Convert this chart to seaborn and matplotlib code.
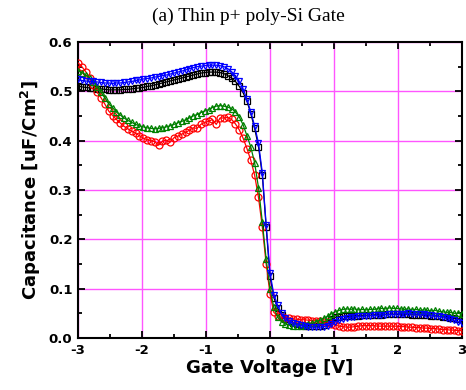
import numpy as np
import pandas as pd
import matplotlib
matplotlib.use("Agg")
import matplotlib.pyplot as plt
from matplotlib.ticker import MultipleLocator
import seaborn as sns

# Gate voltage sweep (V), 0.06 V step from -3 to 3
voltage = np.round(np.linspace(-3.0, 3.0, 101), 2)

cap_black = [
    0.511, 0.509, 0.508, 0.507, 0.506, 0.505, 0.505, 0.504, 0.503, 0.503,
    0.503, 0.503, 0.504, 0.504, 0.505, 0.506, 0.507, 0.508, 0.510, 0.511,
    0.513, 0.515, 0.517, 0.519, 0.521, 0.523, 0.525, 0.527, 0.529, 0.531,
    0.533, 0.535, 0.537, 0.538, 0.539, 0.539, 0.539, 0.538, 0.536, 0.532,
    0.527, 0.520, 0.510, 0.497, 0.480, 0.455, 0.425, 0.388, 0.330, 0.225,
    0.125, 0.082, 0.060, 0.047, 0.039, 0.034, 0.030, 0.028, 0.026, 0.025,
    0.024, 0.024, 0.024, 0.025, 0.027, 0.032, 0.038, 0.042, 0.043, 0.044,
    0.044, 0.045, 0.045, 0.045, 0.046, 0.046, 0.046, 0.047, 0.047, 0.047,
    0.048, 0.048, 0.048, 0.048, 0.048, 0.048, 0.048, 0.047, 0.047, 0.047,
    0.046, 0.046, 0.045, 0.045, 0.044, 0.043, 0.042, 0.041, 0.040, 0.039,
    0.038,
]

cap_red = [
    0.558, 0.550, 0.540, 0.527, 0.512, 0.498, 0.487, 0.474, 0.460, 0.451,
    0.443, 0.436, 0.429, 0.424, 0.419, 0.415, 0.410, 0.405, 0.402, 0.400,
    0.398, 0.391, 0.399, 0.401, 0.397, 0.406, 0.409, 0.413, 0.417, 0.421,
    0.426, 0.425, 0.433, 0.437, 0.439, 0.443, 0.433, 0.446, 0.446, 0.447,
    0.443, 0.434, 0.422, 0.405, 0.384, 0.360, 0.330, 0.285, 0.225, 0.150,
    0.090, 0.052, 0.045, 0.042, 0.040, 0.040, 0.039, 0.038, 0.037, 0.037,
    0.036, 0.035, 0.035, 0.034, 0.033, 0.032, 0.029, 0.026, 0.024, 0.023,
    0.022, 0.022, 0.023, 0.024, 0.025, 0.025, 0.025, 0.025, 0.024, 0.024,
    0.024, 0.024, 0.024, 0.024, 0.023, 0.023, 0.022, 0.022, 0.021, 0.021,
    0.020, 0.020, 0.019, 0.019, 0.018, 0.017, 0.017, 0.016, 0.016, 0.015,
    0.015,
]

cap_green = [
    0.542, 0.538, 0.533, 0.527, 0.519, 0.508, 0.498, 0.487, 0.475, 0.467,
    0.458, 0.452, 0.446, 0.441, 0.437, 0.433, 0.430, 0.428, 0.426, 0.425,
    0.424, 0.425, 0.426, 0.428, 0.430, 0.433, 0.436, 0.439, 0.442, 0.446,
    0.450, 0.453, 0.457, 0.460, 0.463, 0.467, 0.470, 0.471, 0.470, 0.468,
    0.465, 0.458, 0.448, 0.432, 0.410, 0.387, 0.355, 0.305, 0.235, 0.160,
    0.100, 0.062, 0.042, 0.033, 0.029, 0.026, 0.024, 0.024, 0.025, 0.026,
    0.028, 0.030, 0.033, 0.036, 0.040, 0.044, 0.049, 0.053, 0.056, 0.058,
    0.059, 0.058, 0.059, 0.057, 0.058, 0.057, 0.058, 0.058, 0.059, 0.060,
    0.059, 0.061, 0.060, 0.060, 0.059, 0.058, 0.059, 0.057, 0.058, 0.056,
    0.057, 0.056, 0.055, 0.056, 0.054, 0.053, 0.052, 0.052, 0.050, 0.050,
    0.049,
]

cap_blue = [
    0.524, 0.522, 0.521, 0.520, 0.520, 0.519, 0.518, 0.517, 0.517, 0.516,
    0.517, 0.517, 0.518, 0.519, 0.520, 0.522, 0.523, 0.525, 0.526, 0.527,
    0.529, 0.530, 0.532, 0.533, 0.535, 0.537, 0.539, 0.541, 0.543, 0.546,
    0.548, 0.550, 0.551, 0.552, 0.553, 0.553, 0.553, 0.552, 0.550, 0.546,
    0.540, 0.531, 0.520, 0.505, 0.484, 0.458, 0.430, 0.395, 0.335, 0.230,
    0.132, 0.088, 0.066, 0.050, 0.041, 0.035, 0.031, 0.028, 0.026, 0.024,
    0.023, 0.022, 0.022, 0.022, 0.023, 0.025, 0.029, 0.033, 0.036, 0.039,
    0.041, 0.042, 0.043, 0.044, 0.044, 0.045, 0.045, 0.046, 0.046, 0.047,
    0.047, 0.048, 0.048, 0.049, 0.049, 0.049, 0.050, 0.049, 0.049, 0.048,
    0.048, 0.047, 0.046, 0.045, 0.044, 0.043, 0.041, 0.039, 0.036, 0.033,
    0.030,
]

series_names = ["black", "red", "green", "blue"]
series_colors = {"black": "#000000", "red": "#ff0000", "green": "#008000", "blue": "#0000ff"}
series_markers = {"black": "s", "red": "o", "green": "^", "blue": "v"}
series_values = {"black": cap_black, "red": cap_red, "green": cap_green, "blue": cap_blue}

x_ticks = [-3, -2, -1, 0, 1, 2, 3]
y_ticks = [0.0, 0.1, 0.2, 0.3, 0.4, 0.5, 0.6]
x_tick_labels = ["-3", "-2", "-1", "0", "1", "2", "3"]
y_tick_labels = ["0.0", "0.1", "0.2", "0.3", "0.4", "0.5", "0.6"]

title = "(a) Thin p+ poly-Si Gate"
x_label = "Gate Voltage [V]"
y_label = r"Capacitance [uF/Cm$^\mathbf{2}$]"

sns.set_style("ticks")
plt.rcParams["font.family"] = ["DejaVu Sans"]
plt.rcParams["mathtext.fontset"] = "dejavusans"
plt.rcParams["text.color"] = "black"
plt.rcParams["axes.labelcolor"] = "black"
plt.rcParams["xtick.color"] = "black"
plt.rcParams["ytick.color"] = "black"
plt.rcParams["axes.edgecolor"] = "black"

fig = plt.figure(figsize=(4.66, 3.90), dpi=100)
ax = fig.add_axes([78 / 466, 1 - 338 / 390, (462 - 78) / 466, (338 - 42) / 390])

for name in series_names:
    df = pd.DataFrame({"V": voltage, "C": series_values[name]})
    c = series_colors[name]
    sns.lineplot(data=df, x="V", y="C", ax=ax, color=c, linewidth=0.9,
                 marker=series_markers[name], markersize=5.0,
                 markerfacecolor="none", markeredgecolor=c, markeredgewidth=0.9,
                 zorder=3)

ax.set_xlim(-3, 3)
ax.set_ylim(0.0, 0.6)
ax.set_xticks(x_ticks)
ax.set_xticklabels(x_tick_labels)
ax.set_yticks(y_ticks)
ax.set_yticklabels(y_tick_labels)
ax.xaxis.set_minor_locator(MultipleLocator(0.5))
ax.yaxis.set_minor_locator(MultipleLocator(0.05))

ax.grid(True, which="major", color="#ff55ff", linewidth=1.0, zorder=0)
ax.set_axisbelow(True)

ax.tick_params(which="both", direction="in", top=True, right=True, width=1.3,
               colors="black")
ax.tick_params(which="major", length=5, labelsize=9.5, pad=4)
ax.tick_params(which="minor", length=3)
for lab in ax.get_xticklabels() + ax.get_yticklabels():
    lab.set_fontweight("bold")
for sp in ax.spines.values():
    sp.set_linewidth(1.5)
    sp.set_color("black")
    sp.set_visible(True)

ax.set_xlabel(x_label, fontsize=13, fontweight="bold", labelpad=2, color="black")
ax.set_ylabel(y_label, fontsize=13, fontweight="bold", labelpad=4, color="black")

fig.text(248 / 466, 1 - 16 / 390, title, ha="center", va="center", color="black",
         fontsize=14, family=["Liberation Serif", "DejaVu Serif"])

fig.savefig("out.png", dpi=100)
